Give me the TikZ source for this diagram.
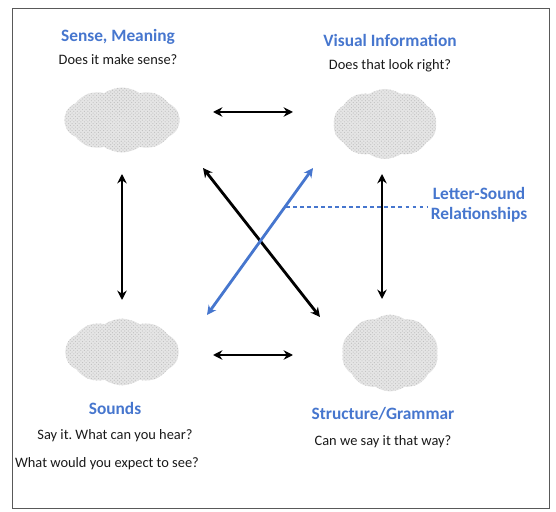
\documentclass[tikz,border=0pt]{standalone}
\usepackage{fontspec}
\setmainfont{Carlito}
\usetikzlibrary{arrows.meta, shapes.symbols, patterns}
\definecolor{headblue}{RGB}{70,118,206}
\frenchspacing

\begin{document}
\begin{tikzpicture}[x=0.03cm, y=-0.03cm,
  head/.style={font=\bfseries\fontsize{14.8}{17}\selectfont, text=headblue},
  ask/.style={font=\fontsize{12.3}{14}\selectfont, text=black!90},
  blob/.style={cloud, cloud puffs=10, cloud puff arc=70, inner sep=0pt,
    fill=gray!20, postaction={pattern=crosshatch dots, pattern color=gray!50}},
  link/.style={{Stealth[length=8pt,width=8pt]}-{Stealth[length=8pt,width=8pt]}, line width=2.4pt},
]
\useasboundingbox (0,0) rectangle (556,512);

% Frame
\draw[black!65, line width=0.8pt] (12,8) rectangle (549,508);

% Clouds
\node[blob, minimum width=3.45cm, minimum height=1.95cm] (meaning) at (122,120) {};
\node[blob, minimum width=3.1cm, minimum height=2.1cm] (visual) at (385,124) {};
\node[blob, minimum width=3.4cm, minimum height=2.0cm] (sounds) at (122,352) {};
\node[blob, minimum width=2.9cm, minimum height=2.3cm] (grammar) at (390,353) {};

% Labels
\node[head] (meaningHead) at (118,37) {Sense, Meaning};
\node[ask] (meaningAsk) at (118,60) {Does it make sense?};

\node[head] (visualHead) at (390,40) {Visual Information};
\node[ask] (visualAsk) at (390,66) {Does that look right?};

\node[head] (soundsHead) at (115,408) {Sounds};
\node[ask] (soundsAsk) at (115,436) {Say it. What can you hear?};
\node[ask] (soundsSee) at (107,464) {What would you expect to see?};

\node[head] (grammarHead) at (383,414) {Structure/Grammar};
\node[ask] (grammarAsk) at (383,442) {Can we say it that way?};

\node[head, align=center, font=\bfseries\fontsize{14.8}{17.5}\selectfont] (lsr) at (479,205) {Letter-Sound\\Relationships};

% Arrow ends
\coordinate (mv1) at (213,112);
\coordinate (mv2) at (293,112);
\coordinate (sg1) at (213,355);
\coordinate (sg2) at (293,355);
\coordinate (ms1) at (122,174);
\coordinate (ms2) at (122,300);
\coordinate (vg1) at (382,174);
\coordinate (vg2) at (382,299);
\coordinate (mg1) at (203,168);
\coordinate (mg2) at (320,317);
\coordinate (vs1) at (313,168);
\coordinate (vs2) at (207,315);
\coordinate (ls) at (286,207);

% Arrows
\draw[link] (mv1) -- (mv2);
\draw[link] (sg1) -- (sg2);
\draw[link] (ms1) -- (ms2);
\draw[link] (vg1) -- (vg2);
\draw[link] (mg1) -- (mg2);
\draw[link, headblue] (vs1) -- (vs2);

% Letter-sound pointer
\draw[headblue, line width=1.4pt, dashed] (ls) -- (ls -| lsr.west);
\end{tikzpicture}
\end{document}
